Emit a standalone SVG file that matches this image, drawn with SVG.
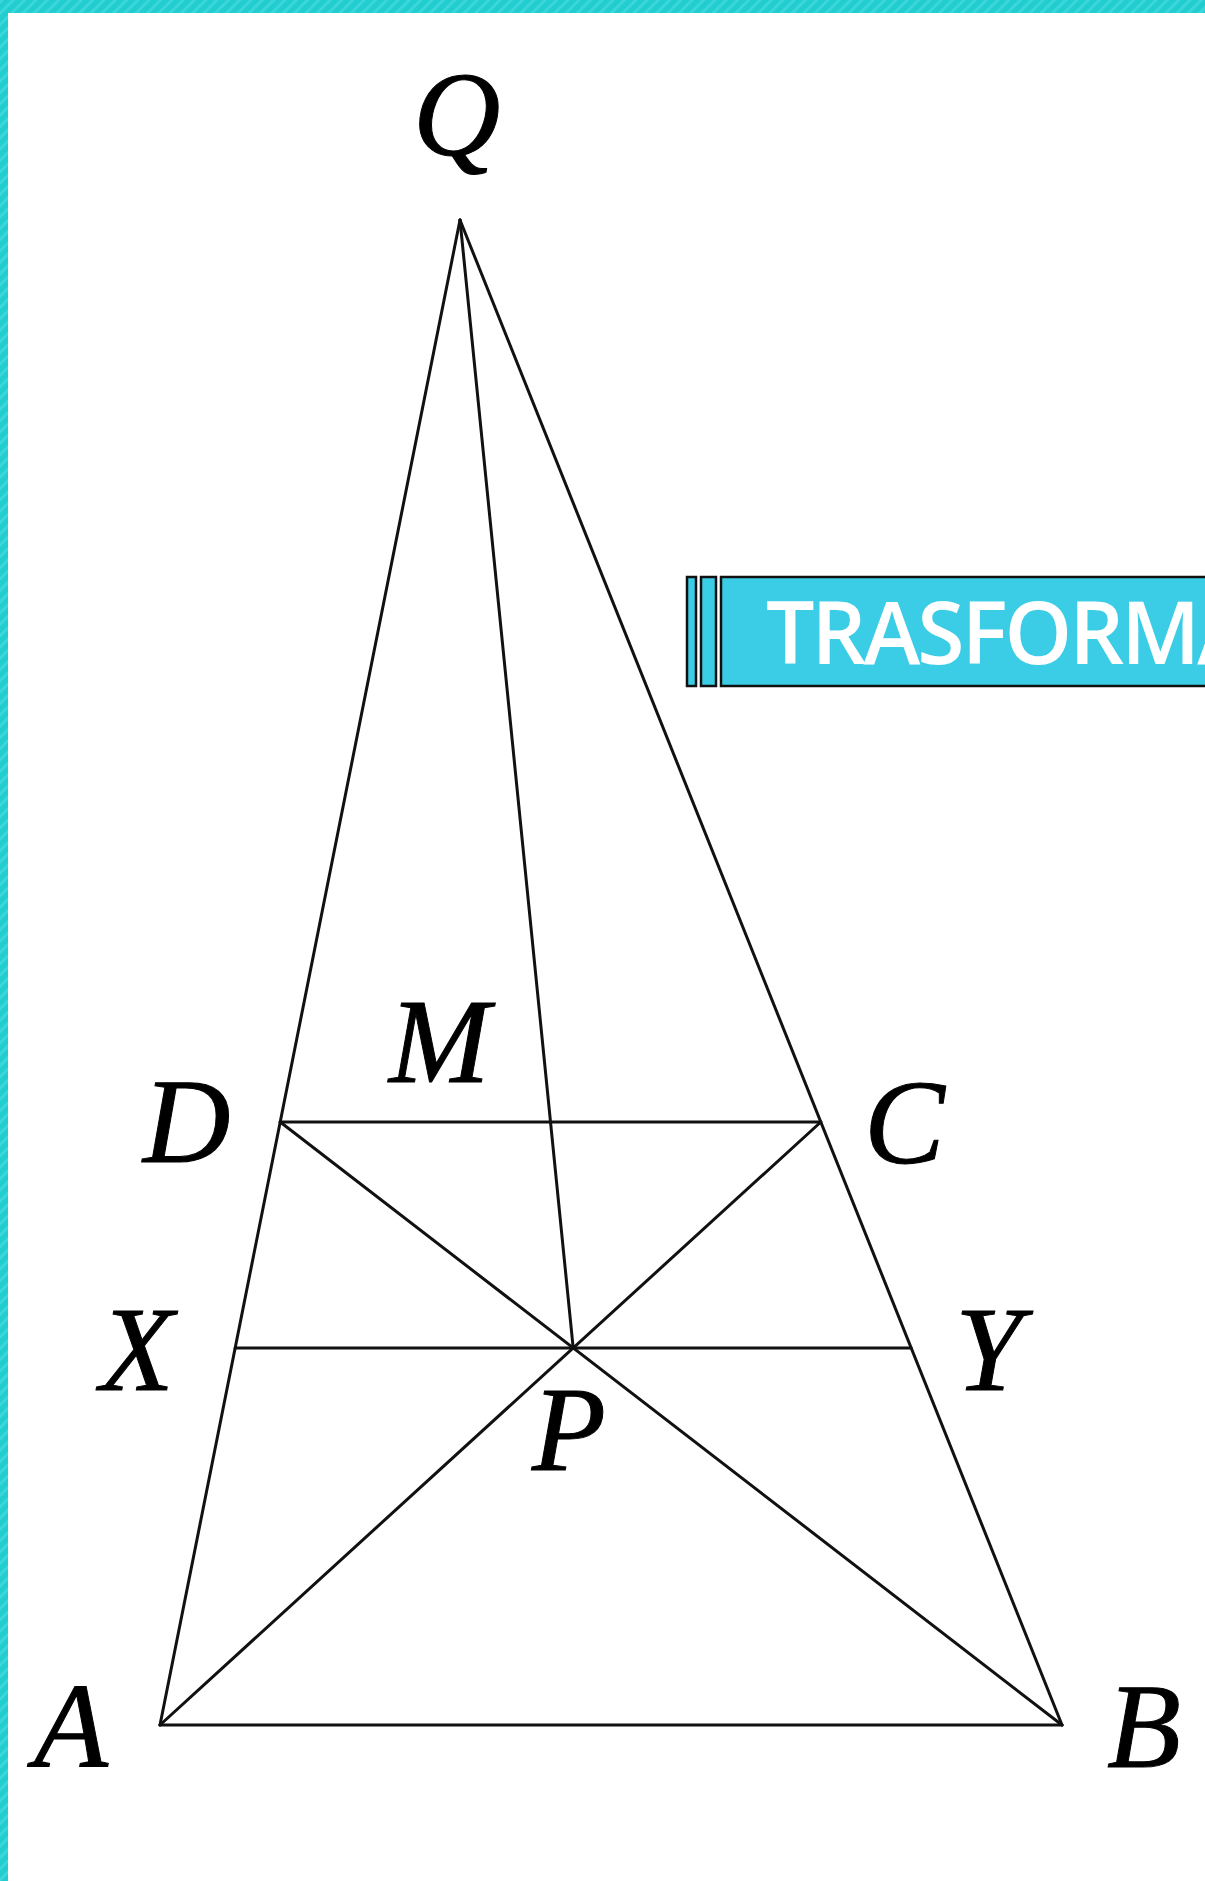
<svg xmlns="http://www.w3.org/2000/svg" width="1205" height="1881" viewBox="0 0 1205 1881">
<defs>
<pattern id="hatch" patternUnits="userSpaceOnUse" width="8" height="8" patternTransform="rotate(45)">
<rect width="8" height="8" fill="#22cdd0"/>
<rect width="3" height="8" fill="#3ad6d9"/>
</pattern>
<style>
.ln{stroke:#111;stroke-width:3;fill:none;stroke-linecap:round;stroke-linejoin:round}
.lbl{font-family:"Liberation Serif","Times New Roman",serif;font-style:italic;font-size:121px;fill:#000;stroke:#000;stroke-width:1}
.bar{fill:#3ccde6;stroke:#111;stroke-width:2.5}
.ban{font-family:"Open Sans","DejaVu Sans",sans-serif;font-weight:600;font-size:86px;fill:#fff;letter-spacing:-3px}
</style>
</defs>
<rect x="0" y="0" width="1205" height="1881" fill="#fff"/>
<rect x="0" y="0" width="1205" height="13" fill="url(#hatch)"/>
<rect x="0" y="0" width="8" height="1881" fill="url(#hatch)"/>

<g id="connectors">
<line class="ln" x1="460" y1="220" x2="160" y2="1725"/>
<line class="ln" x1="460" y1="220" x2="1062" y2="1725"/>
<line class="ln" x1="460" y1="220" x2="573.2" y2="1348.1"/>
<line class="ln" x1="160" y1="1725" x2="1062" y2="1725"/>
<line class="ln" x1="280.2" y1="1122" x2="820.8" y2="1122"/>
<line class="ln" x1="235.1" y1="1348.1" x2="911.2" y2="1348.1"/>
<line class="ln" x1="160" y1="1725" x2="820.8" y2="1122"/>
<line class="ln" x1="1062" y1="1725" x2="280.2" y2="1122"/>
</g>

<g id="node-Q"><text class="lbl" x="413" y="155">Q</text></g>
<g id="node-M"><text class="lbl" x="389" y="1082">M</text></g>
<g id="node-D"><text class="lbl" x="143" y="1162">D</text></g>
<g id="node-C"><text class="lbl" x="864" y="1163">C</text></g>
<g id="node-X"><text class="lbl" x="100" y="1390">X</text></g>
<g id="node-Y"><text class="lbl" x="955" y="1390">Y</text></g>
<g id="node-P"><text class="lbl" x="532" y="1470">P</text></g>
<g id="node-A"><text class="lbl" x="34" y="1767">A</text></g>
<g id="node-B"><text class="lbl" x="1107" y="1767">B</text></g>

<g id="banner">
<rect class="bar" x="687" y="577" width="9" height="109"/>
<rect class="bar" x="701" y="577" width="15" height="109"/>
<rect class="bar" x="721" y="577" width="500" height="109"/>
<text class="ban" x="766" y="664">TRASFORMA</text>
</g>
</svg>
